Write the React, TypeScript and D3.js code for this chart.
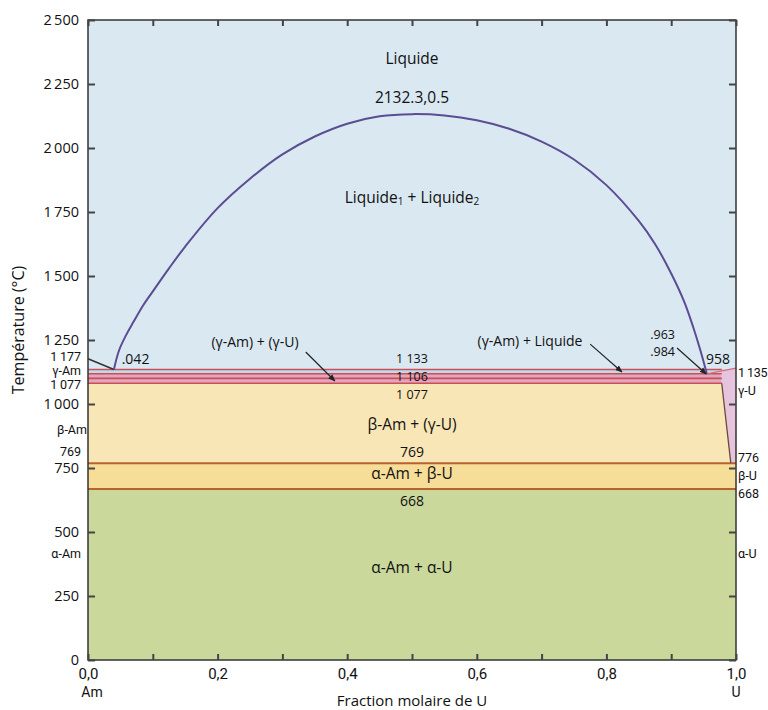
import React, { useEffect, useRef } from "react";
import * as d3 from "d3";

// dome of the miscibility gap (fraction U, °C)
const domeX = [0.04, 0.048, 0.06, 0.07, 0.085, 0.1, 0.125, 0.15, 0.2, 0.25, 0.3, 0.35, 0.4, 0.45, 0.5, 0.55, 0.6, 0.65, 0.7, 0.75, 0.8, 0.85, 0.875, 0.9, 0.92, 0.934, 0.945, 0.955];
const domeT = [1135, 1210, 1275, 1320, 1385, 1440, 1530, 1615, 1765, 1880, 1975, 2045, 2095, 2124, 2132.3, 2127, 2108, 2075, 2025, 1955, 1855, 1715, 1625, 1510, 1400, 1300, 1210, 1118];

// horizontal invariant lines
const bandT = [1135, 1118, 1100, 1081];
const transT = [769, 668];

// left liquidus (Am side)
const liqX = [0, 0.04];
const liqT = [1177, 1135];

// γ-U solvus boundary (beige / lavender)
const solvX = [0.978, 0.992];
const solvT = [1081, 769];

const yTicks = [0, 250, 500, 750, 1000, 1250, 1500, 1750, 2000, 2250, 2500];
const xTicks = [0, 0.1, 0.2, 0.3, 0.4, 0.5, 0.6, 0.7, 0.8, 0.9, 1];

const W = 768;
const H = 710;
const x = d3.scaleLinear().domain([0, 1]).range([88, 736]);
const y = d3.scaleLinear().domain([0, 2500]).range([660, 20]);

const sans = "'Open Sans', 'Noto Sans', sans-serif";
const cond = "Roboto, 'Open Sans', sans-serif";

const fmtY = (v: number) =>
  v >= 1000 ? `${Math.floor(v / 1000)}\u2009${String(v % 1000).padStart(3, "0")}` : String(v);
const fmtX = (v: number) => (Math.round(v * 10) % 2 === 0 ? d3.format(".1f")(v).replace(".", ",") : "");

const Axis = ({ gen, transform, cls }: { gen: any; transform: string; cls: string }) => {
  const ref = useRef<SVGGElement>(null);
  useEffect(() => {
    const g = d3.select(ref.current);
    g.call(gen);
    g.select(".domain").remove();
    g.selectAll(".tick line").attr("stroke", "#444").attr("stroke-width", 2);
    g.selectAll(".tick text").attr("fill", "#111");
  }, [gen]);
  return <g ref={ref} className={cls} transform={transform} />;
};

const Arrow = ({ x1, t1, x2, t2 }: { x1: number; t1: number; x2: number; t2: number }) => (
  <line x1={x(x1)} y1={y(t1)} x2={x(x2)} y2={y(t2)} stroke="#222" strokeWidth={1.2} markerEnd="url(#arr)" />
);

export default function App() {
  const dome = d3
    .line<number>()
    .x((_, i) => x(domeX[i]))
    .y((_, i) => y(domeT[i]))
    .curve(d3.curveCatmullRom)(domeX);

  const left = x(0);
  const right = x(1);
  const bandRight = x(0.978);

  const lavender = [
    [x(0.975), y(1135)],
    [right, y(1140)],
    [right, y(769)],
    [x(solvX[1]), y(solvT[1])],
    [x(solvX[0]), y(solvT[0])],
  ];

  const leftAxis = d3.axisLeft(y).tickValues(yTicks).tickSizeInner(-7).tickSizeOuter(0).tickPadding(9).tickFormat(fmtY as any);
  const rightAxis = d3.axisRight(y).tickValues(yTicks).tickSizeInner(-7).tickSizeOuter(0).tickFormat(() => "");
  const bottomAxis = d3.axisBottom(x).tickValues(xTicks).tickSizeInner(-6).tickSizeOuter(0).tickPadding(8).tickFormat(fmtX as any);
  const topAxis = d3.axisTop(x).tickValues(xTicks).tickSizeInner(-6).tickSizeOuter(0).tickFormat(() => "");

  const lbl = { fontFamily: sans, fontSize: 15.5, fill: "#111", dominantBaseline: "central" as const };
  const small = { ...lbl, fontSize: 14 };
  const tiny = { ...lbl, fontSize: 12.5 };
  const side = { fontFamily: cond, fontSize: 12.5, fill: "#111", dominantBaseline: "central" as const };

  return (
    <svg width={W} height={H} style={{ position: "absolute", left: 0, top: 0, background: "#fff" }}>
      <defs>
        <marker id="arr" viewBox="0 0 10 10" refX="9" refY="5" markerWidth="6" markerHeight="6" orient="auto">
          <path d="M0,1 L10,5 L0,9 Z" fill="#222" />
        </marker>
      </defs>
      <style>{`.yax .tick text{font-family:${sans};font-size:14.5px}.xax .tick text{font-family:${cond};font-size:15px}`}</style>

      {/* regions */}
      <rect x={left} y={y(2500)} width={right - left} height={y(0) - y(2500)} fill="#dae8f2" />
      <rect x={left} y={y(bandT[0])} width={bandRight - left} height={y(bandT[1]) - y(bandT[0])} fill="#c3d9ea" />
      <rect x={left} y={y(bandT[1])} width={bandRight - left} height={y(bandT[3]) - y(bandT[1])} fill="#e3a6bd" />
      <path
        d={`M${left},${y(bandT[3])}L${x(solvX[0])},${y(solvT[0])}L${x(solvX[1])},${y(solvT[1])}L${left},${y(transT[0])}Z`}
        fill="#f8e6b6"
      />
      <polygon points={lavender.map((p) => p.join(",")).join(" ")} fill="#e6c4dd" />
      <rect x={left} y={y(transT[0])} width={right - left} height={y(transT[1]) - y(transT[0])} fill="#f6dd98" />
      <rect x={left} y={y(transT[1])} width={right - left} height={y(0) - y(transT[1])} fill="#cad99b" />

      {/* lines */}
      {bandT.map((t) => (
        <line key={t} x1={left} x2={bandRight} y1={y(t)} y2={y(t)} stroke="#c8505a" strokeWidth={1.6} />
      ))}
      {transT.map((t) => (
        <line key={t} x1={left} x2={right} y1={y(t)} y2={y(t)} stroke="#b8622e" strokeWidth={2} />
      ))}
      <line x1={x(solvX[0])} y1={y(solvT[0])} x2={x(solvX[1])} y2={y(solvT[1])} stroke="#6b4a3a" strokeWidth={1.3} />
      <line x1={x(0.955)} y1={y(1118)} x2={right} y2={y(1140)} stroke="#d0707e" strokeWidth={1.3} />
      <line x1={x(liqX[0])} y1={y(liqT[0])} x2={x(liqX[1])} y2={y(liqT[1])} stroke="#333" strokeWidth={1.5} />
      <path d={dome ?? ""} fill="none" stroke="#5a4d92" strokeWidth={2} />

      {/* frame & axes */}
      <rect x={left} y={y(2500)} width={right - left} height={y(0) - y(2500)} fill="none" stroke="#333" strokeWidth={1.5} />
      <Axis gen={leftAxis} cls="yax" transform={`translate(${left},0)`} />
      <Axis gen={rightAxis} cls="yax" transform={`translate(${right},0)`} />
      <Axis gen={bottomAxis} cls="xax" transform={`translate(0,${y(0)})`} />
      <Axis gen={topAxis} cls="xax" transform={`translate(0,${y(2500)})`} />

      {/* axis titles */}
      <text x={92} y={692} textAnchor="middle" style={{ ...side, fontSize: 14 }}>Am</text>
      <text x={right} y={692} textAnchor="middle" style={{ ...side, fontSize: 14 }}>U</text>
      <text x={412} y={700} textAnchor="middle" style={{ ...lbl, fontSize: 15 }}>Fraction molaire de U</text>
      <text transform={`translate(18,330) rotate(-90)`} textAnchor="middle" style={{ ...lbl, fontSize: 16 }}>
        Température (°C)
      </text>

      {/* region labels */}
      <text x={x(0.5)} y={58} textAnchor="middle" style={lbl}>Liquide</text>
      <text x={x(0.5)} y={97} textAnchor="middle" style={lbl}>2132.3,0.5</text>
      <text x={x(0.5)} y={197} textAnchor="middle" style={lbl}>
        Liquide<tspan fontSize={10} dy={4}>1</tspan>
        <tspan dy={-4}> + Liquide</tspan>
        <tspan fontSize={10} dy={4}>2</tspan>
      </text>
      <text x={x(0.052)} y={358} style={small}>.042</text>
      <text x={255} y={341} textAnchor="middle" style={small}>(γ-Am) + (γ-U)</text>
      <text x={530} y={340} textAnchor="middle" style={small}>(γ-Am) + Liquide</text>
      <text x={675} y={334} textAnchor="end" style={tiny}>.963</text>
      <text x={675} y={351} textAnchor="end" style={tiny}>.984</text>
      <text x={718} y={358} textAnchor="middle" style={small}>958</text>
      <text x={x(0.5)} y={358} textAnchor="middle" style={tiny}>1 133</text>
      <text x={x(0.5)} y={376} textAnchor="middle" style={tiny}>1 106</text>
      <text x={x(0.5)} y={394} textAnchor="middle" style={tiny}>1 077</text>
      <text x={x(0.5)} y={424} textAnchor="middle" style={lbl}>β-Am + (γ-U)</text>
      <text x={x(0.5)} y={451} textAnchor="middle" style={small}>769</text>
      <text x={x(0.5)} y={473} textAnchor="middle" style={lbl}>α-Am + β-U</text>
      <text x={x(0.5)} y={500} textAnchor="middle" style={small}>668</text>
      <text x={x(0.5)} y={567} textAnchor="middle" style={lbl}>α-Am + α-U</text>

      <Arrow x1={0.336} t1={1203} x2={0.381} t2={1090} />
      <Arrow x1={0.775} t1={1234} x2={0.824} t2={1125} />
      <Arrow x1={0.909} t1={1219} x2={0.954} t2={1117} />

      {/* left side labels */}
      <text x={81} y={356} textAnchor="end" style={side}>1{"\u2009"}177</text>
      <text x={81} y={370} textAnchor="end" style={side}>γ-Am</text>
      <text x={81} y={384} textAnchor="end" style={side}>1{"\u2009"}077</text>
      <text x={87} y={429} textAnchor="end" style={side}>β-Am</text>
      <text x={81} y={451} textAnchor="end" style={side}>769</text>
      <text x={81} y={553} textAnchor="end" style={side}>α-Am</text>

      {/* right side labels */}
      <text x={738} y={372} style={side} letterSpacing={-0.3}>1{"\u2009"}135</text>
      <text x={738} y={390} style={side}>γ-U</text>
      <text x={738} y={457} style={side}>776</text>
      <text x={738} y={475} style={side}>β-U</text>
      <text x={738} y={493} style={side}>668</text>
      <text x={738} y={553} style={side}>α-U</text>
    </svg>
  );
}
